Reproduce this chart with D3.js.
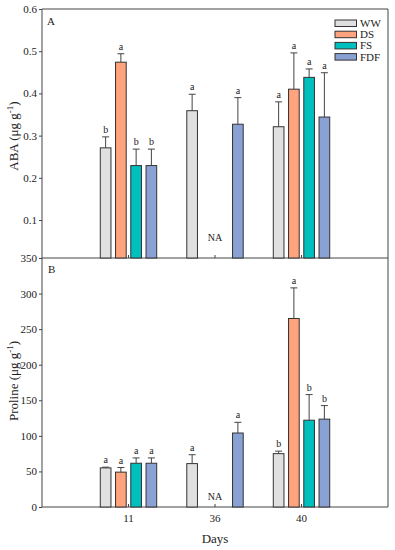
<!DOCTYPE html>
<html>
<head>
<meta charset="utf-8">
<script src="https://cdn.jsdelivr.net/npm/d3@7"></script>
<style>
  body { margin: 0; background: #fff; }
  text { font-family: "Liberation Serif", "Times New Roman", serif; fill: #222; }
</style>
</head>
<body>
<div id="chart"></div>
<script>
// Categories
const days = ["11", "36", "40"];
const series = ["WW", "DS", "FS", "FDF"];
const colors = ["#e0e0e0", "#ffa27e", "#00bfbf", "#8aa2d3"];

// ABA (ug g-1), null = NA
const abaWW = [0.271, 0.359, 0.321];
const abaDS = [0.474, null, 0.410];
const abaFS = [0.229, null, 0.438];
const abaFDF = [0.229, 0.327, 0.344];
const abaErrWW = [0.026, 0.039, 0.059];
const abaErrDS = [0.020, null, 0.086];
const abaErrFS = [0.039, null, 0.020];
const abaErrFDF = [0.039, 0.063, 0.105];
const abaLetWW = ["b", "a", "a"];
const abaLetDS = ["a", null, "a"];
const abaLetFS = ["b", null, "a"];
const abaLetFDF = ["b", "a", "a"];

// Proline (ug g-1)
const proWW = [55, 61, 75];
const proDS = [49, null, 265];
const proFS = [61.5, null, 122];
const proFDF = [61.5, 104, 123.5];
const proErrWW = [1, 12.5, 3.5];
const proErrDS = [6.5, null, 43];
const proErrFS = [7.5, null, 36];
const proErrFDF = [7.5, 15, 19];
const proLetWW = ["a", "a", "b"];
const proLetDS = ["a", null, "a"];
const proLetFS = ["a", null, "b"];
const proLetFDF = ["a", "a", "b"];

const abaTicks = [0.1, 0.2, 0.3, 0.4, 0.5, 0.6];
const proTicks = [0, 50, 100, 150, 200, 250, 300, 350];

const width = 395, height = 550;
const left = 42, right = 388;
const topA = 9, midY = 258, bottomB = 507;
const axisColor = "#444";

const svg = d3.select("#chart").append("svg")
    .attr("width", width)
    .attr("height", height);

const x = d3.scalePoint().domain(days).range([left, right]).padding(1);
const xInner = d3.scaleBand().domain(series).range([-30.5, 30.5])
    .paddingInner(0.3).paddingOuter(0.15);

const yA = d3.scaleLinear().domain([0.01, 0.6]).range([midY, topA]);
const yB = d3.scaleLinear().domain([0, 350]).range([bottomB, midY]);

// build rows for a panel
function rows(vals, errs, lets) {
    const out = [];
    series.forEach((s, si) => {
        days.forEach((d, di) => {
            if (vals[si][di] != null) {
                out.push({ s, d, v: vals[si][di], e: errs[si][di], l: lets[si][di], c: colors[si] });
            }
        });
    });
    return out;
}

function drawPanel(y, data, ticks, fmt, bottom, top) {
    const g = svg.append("g");

    // y axis
    const yAxis = d3.axisLeft(y).tickValues(ticks).tickFormat(fmt).tickSize(3).tickPadding(2);
    const ax = g.append("g").attr("transform", `translate(${left},0)`).call(yAxis);
    ax.select(".domain").remove();
    ax.selectAll("line").attr("stroke", axisColor);
    ax.selectAll("text").attr("font-size", 11).attr("font-family", "Liberation Serif").attr("fill", "#222");

    // frame
    g.append("line").attr("x1", left).attr("x2", left).attr("y1", top).attr("y2", bottom).attr("stroke", axisColor);
    g.append("line").attr("x1", right).attr("x2", right).attr("y1", top).attr("y2", bottom).attr("stroke", axisColor);
    g.append("line").attr("x1", left).attr("x2", right).attr("y1", bottom).attr("y2", bottom).attr("stroke", axisColor);

    // inward x ticks
    g.selectAll(".xt").data(days).enter().append("line")
        .attr("x1", d => x(d)).attr("x2", d => x(d))
        .attr("y1", bottom).attr("y2", bottom - 3)
        .attr("stroke", axisColor);

    // bars
    g.selectAll(".bar").data(data).enter().append("rect")
        .attr("x", d => x(d.d) + xInner(d.s))
        .attr("y", d => y(d.v))
        .attr("width", xInner.bandwidth())
        .attr("height", d => bottom - y(d.v))
        .attr("fill", d => d.c)
        .attr("stroke", "#333")
        .attr("stroke-width", 1);

    // error bars (upper only)
    const cx = d => x(d.d) + xInner(d.s) + xInner.bandwidth() / 2;
    g.selectAll(".err").data(data).enter().append("line")
        .attr("x1", cx).attr("x2", cx)
        .attr("y1", d => y(d.v)).attr("y2", d => y(d.v + d.e))
        .attr("stroke", "#444");
    g.selectAll(".cap").data(data).enter().append("line")
        .attr("x1", d => cx(d) - 3.5).attr("x2", d => cx(d) + 3.5)
        .attr("y1", d => y(d.v + d.e)).attr("y2", d => y(d.v + d.e))
        .attr("stroke", "#444");

    // significance letters
    g.selectAll(".let").data(data).enter().append("text")
        .attr("x", cx)
        .attr("y", d => y(d.v + d.e) - 4)
        .attr("text-anchor", "middle")
        .attr("font-size", 10)
        .text(d => d.l);

    return g;
}

const abaData = rows([abaWW, abaDS, abaFS, abaFDF], [abaErrWW, abaErrDS, abaErrFS, abaErrFDF], [abaLetWW, abaLetDS, abaLetFS, abaLetFDF]);
const proData = rows([proWW, proDS, proFS, proFDF], [proErrWW, proErrDS, proErrFS, proErrFDF], [proLetWW, proLetDS, proLetFS, proLetFDF]);

drawPanel(yA, abaData, abaTicks, d3.format(".1f"), midY, topA);
drawPanel(yB, proData, proTicks, d3.format("d"), bottomB, midY);

// top border of panel A
svg.append("line").attr("x1", left).attr("x2", right).attr("y1", topA).attr("y2", topA).attr("stroke", axisColor);

// panel letters
svg.append("text").attr("x", 47).attr("y", 25).attr("font-size", 11).text("A");
svg.append("text").attr("x", 48).attr("y", 273).attr("font-size", 11).text("B");

// NA
svg.append("text").attr("x", x("36")).attr("y", 241).attr("text-anchor", "middle").attr("font-size", 10).text("NA");
svg.append("text").attr("x", x("36")).attr("y", 500).attr("text-anchor", "middle").attr("font-size", 10).text("NA");

// x tick labels
svg.selectAll(".xl").data(days).enter().append("text")
    .attr("x", d => x(d)).attr("y", 522)
    .attr("text-anchor", "middle").attr("font-size", 11)
    .text(d => d);

svg.append("text").attr("x", 215).attr("y", 543).attr("text-anchor", "middle").attr("font-size", 13).text("Days");

// y titles
function yTitle(name, cy) {
    const t = svg.append("text")
        .attr("transform", `translate(18,${cy}) rotate(-90)`)
        .attr("text-anchor", "middle")
        .attr("font-size", 13);
    t.append("tspan").text(name + " (μg g");
    t.append("tspan").attr("dy", -5).attr("font-size", 9).text("-1");
    t.append("tspan").attr("dy", 5).text(")");
}
yTitle("ABA", 136);
yTitle("Proline", 381);

// legend
const leg = svg.append("g").attr("transform", "translate(335,20)");
series.forEach((s, i) => {
    leg.append("rect").attr("x", 0).attr("y", i * 11.2).attr("width", 21.5).attr("height", 6.5)
        .attr("fill", colors[i]).attr("stroke", "#333");
    leg.append("text").attr("x", 25).attr("y", i * 11.2 + 7).attr("font-size", 11).text(s);
});
</script>
</body>
</html>
